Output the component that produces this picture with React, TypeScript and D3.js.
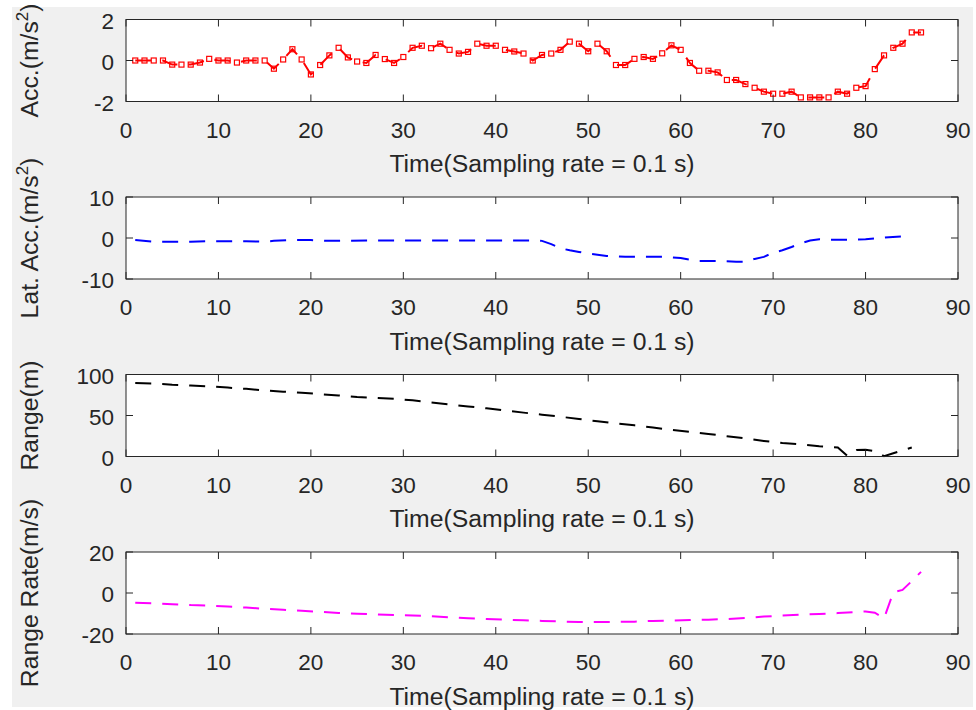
import React from "react";
import * as d3 from "d3";

// figure size in px, same as the browser window
const W = 976;
const H = 710;

const xTicks = [0, 10, 20, 30, 40, 50, 60, 70, 80, 90];
const xLabel = "Time(Sampling rate = 0.1 s)";

// longitudinal acceleration, one sample per time step (red squares)
const accData: [number, number][] = [
  [1, 0], [2, 0], [3, 0], [4, 0], [5, -0.2], [6, -0.2], [7, -0.2], [8, -0.1], [9, 0.08], [10, 0],
  [11, 0], [12, -0.1], [13, 0], [14, 0], [15, 0], [16, -0.4], [17, 0.05], [18, 0.55], [19, 0.05], [20, -0.68],
  [21, -0.22], [22, 0.25], [23, 0.62], [24, 0.15], [25, -0.05], [26, -0.12], [27, 0.27], [28, 0.07], [29, -0.12], [30, 0.17],
  [31, 0.62], [32, 0.72], [33, 0.6], [34, 0.82], [35, 0.52], [36, 0.34], [37, 0.42], [38, 0.82], [39, 0.72], [40, 0.72],
  [41, 0.52], [42, 0.44], [43, 0.34], [44, 0], [45, 0.27], [46, 0.34], [47, 0.52], [48, 0.92], [49, 0.82], [50, 0.45],
  [51, 0.82], [52, 0.45], [53, -0.22], [54, -0.22], [55, 0.08], [56, 0.17], [57, 0.08], [58, 0.35], [59, 0.74], [60, 0.52],
  [61, -0.12], [62, -0.5], [63, -0.5], [64, -0.58], [65, -0.95], [66, -0.95], [67, -1.15], [68, -1.33], [69, -1.52], [70, -1.62],
  [71, -1.62], [72, -1.52], [73, -1.8], [74, -1.8], [75, -1.8], [76, -1.8], [77, -1.52], [78, -1.62], [79, -1.33], [80, -1.25],
  [81, -0.42], [82, 0.25], [83, 0.62], [84, 0.82], [85, 1.37], [86, 1.37],
];

// lateral acceleration (blue dashed)
const latAccData: [number, number][] = [
  [1, -0.5], [3, -0.9], [5, -0.9], [7, -0.9], [9, -0.8], [11, -0.8], [13, -0.8], [15, -0.9], [16, -0.7],
  [18, -0.5], [20, -0.5], [22, -0.7], [24, -0.7], [26, -0.6], [28, -0.6], [30, -0.6], [32, -0.6], [34, -0.6],
  [36, -0.6], [38, -0.6], [40, -0.6], [42, -0.6], [44, -0.6], [45, -0.7], [46, -1.5], [47, -2.5], [48, -3.0],
  [49, -3.4], [50, -3.8], [51, -4.1], [52, -4.4], [54, -4.6], [56, -4.6], [58, -4.6], [60, -4.9], [61, -5.3],
  [62, -5.6], [64, -5.6], [66, -5.8], [67, -5.8], [68, -5.1], [69, -4.6], [70, -3.6], [71, -3.0], [72, -2.2],
  [73, -1.3], [74, -0.6], [75, -0.3], [76, -0.4], [78, -0.4], [80, -0.3], [82, 0.1], [84, 0.4], [85, 0.5],
];

// range to target (black dashed)
const rangeData: [number, number][] = [
  [1, 89.7], [3, 89], [5, 87.5], [7, 86.5], [9, 85.5], [11, 84], [13, 82.5], [15, 80.5], [17, 79], [19, 77.8],
  [21, 76], [23, 74.5], [25, 72.6], [27, 71.5], [29, 70.4], [31, 68.5], [33, 66], [35, 63.5], [37, 61], [39, 58.8],
  [41, 56], [43, 53.5], [45, 51], [47, 48.5], [49, 45.7], [51, 43], [53, 40.3], [55, 38], [57, 35.3], [59, 32.5],
  [61, 30], [63, 27.5], [65, 24.7], [67, 22], [69, 19], [71, 16.5], [73, 14.8], [75, 12.5], [76, 11.8], [77, 11],
  [78, 1], [79, 8], [80, 8.3], [81, 6.5], [82, 0.5], [83, 4], [84, 7.5], [85, 11],
];

// range rate (magenta dashed)
const rangeRateData: [number, number][] = [
  [1, -4.7], [3, -5], [5, -5.5], [7, -5.9], [9, -6.1], [11, -6.6], [13, -7.1], [15, -7.7], [17, -8.2], [19, -8.6],
  [21, -9.2], [23, -9.7], [25, -10.1], [27, -10.4], [29, -10.7], [31, -11], [33, -11.3], [35, -11.9], [37, -12.3],
  [39, -12.7], [41, -13], [43, -13.3], [45, -13.6], [47, -13.9], [49, -14.2], [51, -14.2], [53, -14.1], [55, -14],
  [57, -13.6], [59, -13.4], [61, -13.2], [63, -13], [65, -12.7], [67, -12.2], [69, -11.5], [71, -11], [73, -10.5],
  [75, -10.2], [77, -9.8], [79, -9.3], [80, -9], [81, -9.6], [82, -12.4], [83, 0.3], [84, 1.5], [85, 5.8], [86, 10.3],
];

const accTicks = [-2, 0, 2];
const latAccTicks = [-10, 0, 10];
const rangeTicks = [0, 50, 100];
const rangeRateTicks = [-20, 0, 20];

type Series = {
  data: [number, number][];
  color: string;
  domain: [number, number];
  ticks: number[];
  label: string;
  sup?: string;
  tail?: string;
  markers?: boolean;
};

const panels: Series[] = [
  { data: accData, color: "#ff0000", domain: [-2, 2], ticks: accTicks, label: "Acc.(m/s", sup: "2", tail: ")", markers: true },
  { data: latAccData, color: "#0000ff", domain: [-10, 10], ticks: latAccTicks, label: "Lat. Acc.(m/s", sup: "2", tail: ")" },
  { data: rangeData, color: "#000000", domain: [0, 100], ticks: rangeTicks, label: "Range(m)" },
  { data: rangeRateData, color: "#ff00ff", domain: [-20, 20], ticks: rangeRateTicks, label: "Range Rate(m/s)" },
];

const AX = "#262626";
const FONT = "'Liberation Sans', Arial, Helvetica, sans-serif";
const left = 126;
const right = 958;
const plotH = 82;
const tick = 7;

const x = d3.scaleLinear().domain([0, 90]).range([left, right]);

function Panel({ s, i }: { s: Series; i: number }) {
  const top = 19.5 + i * 177.5;
  const bottom = top + plotH;
  const y = d3.scaleLinear().domain(s.domain).range([bottom, top]);
  const line = d3.line<[number, number]>().x(d => x(d[0])).y(d => y(d[1]));
  const midY = (top + bottom) / 2;

  return (
    <g>
      <rect x={left} y={top} width={right - left} height={plotH} fill="#fff" />
      <path d={line(s.data) || ""} fill="none" stroke={s.color} strokeWidth={2} strokeDasharray="16 11" />
      {s.markers && s.data.map((d, k) => (
        <rect key={k} x={x(d[0]) - 2.5} y={y(d[1]) - 2.5} width={5} height={5}
          fill="none" stroke={s.color} strokeWidth={1.2} />
      ))}
      <rect x={left} y={top} width={right - left} height={plotH} fill="none" stroke={AX} strokeWidth={1} />
      {xTicks.map(t => (
        <g key={t}>
          <line x1={x(t)} x2={x(t)} y1={bottom} y2={bottom - tick} stroke={AX} />
          <line x1={x(t)} x2={x(t)} y1={top} y2={top + tick} stroke={AX} />
          <text x={x(t)} y={bottom + 36} textAnchor="middle" fontSize={22.5} fill={AX}>{t}</text>
        </g>
      ))}
      {s.ticks.map(t => (
        <g key={t}>
          <line x1={left} x2={left + tick} y1={y(t)} y2={y(t)} stroke={AX} />
          <line x1={right} x2={right - tick} y1={y(t)} y2={y(t)} stroke={AX} />
          <text x={left - 12} y={y(t) + 9} textAnchor="end" fontSize={22.5} fill={AX}>{t}</text>
        </g>
      ))}
      <text x={(left + right) / 2} y={bottom + 70.5} textAnchor="middle" fontSize={24.75} fill={AX}>{xLabel}</text>
      <text transform={`translate(38,${midY}) rotate(-90)`} textAnchor="middle" fontSize={24.75} fill={AX}>
        {s.label}
        {s.sup && <tspan dy={-10} fontSize={17}>{s.sup}</tspan>}
        {s.tail && <tspan dy={10}>{s.tail}</tspan>}
      </text>
    </g>
  );
}

export default function App() {
  return (
    <svg width={W} height={H} style={{ position: "absolute", left: 0, top: 0 }} fontFamily={FONT}>
      <rect x={0} y={0} width={W} height={H} fill="#fff" />
      <rect x={12} y={7} width={961} height={700} fill="#f0f0f0" />
      {panels.map((s, i) => <Panel key={i} s={s} i={i} />)}
    </svg>
  );
}
